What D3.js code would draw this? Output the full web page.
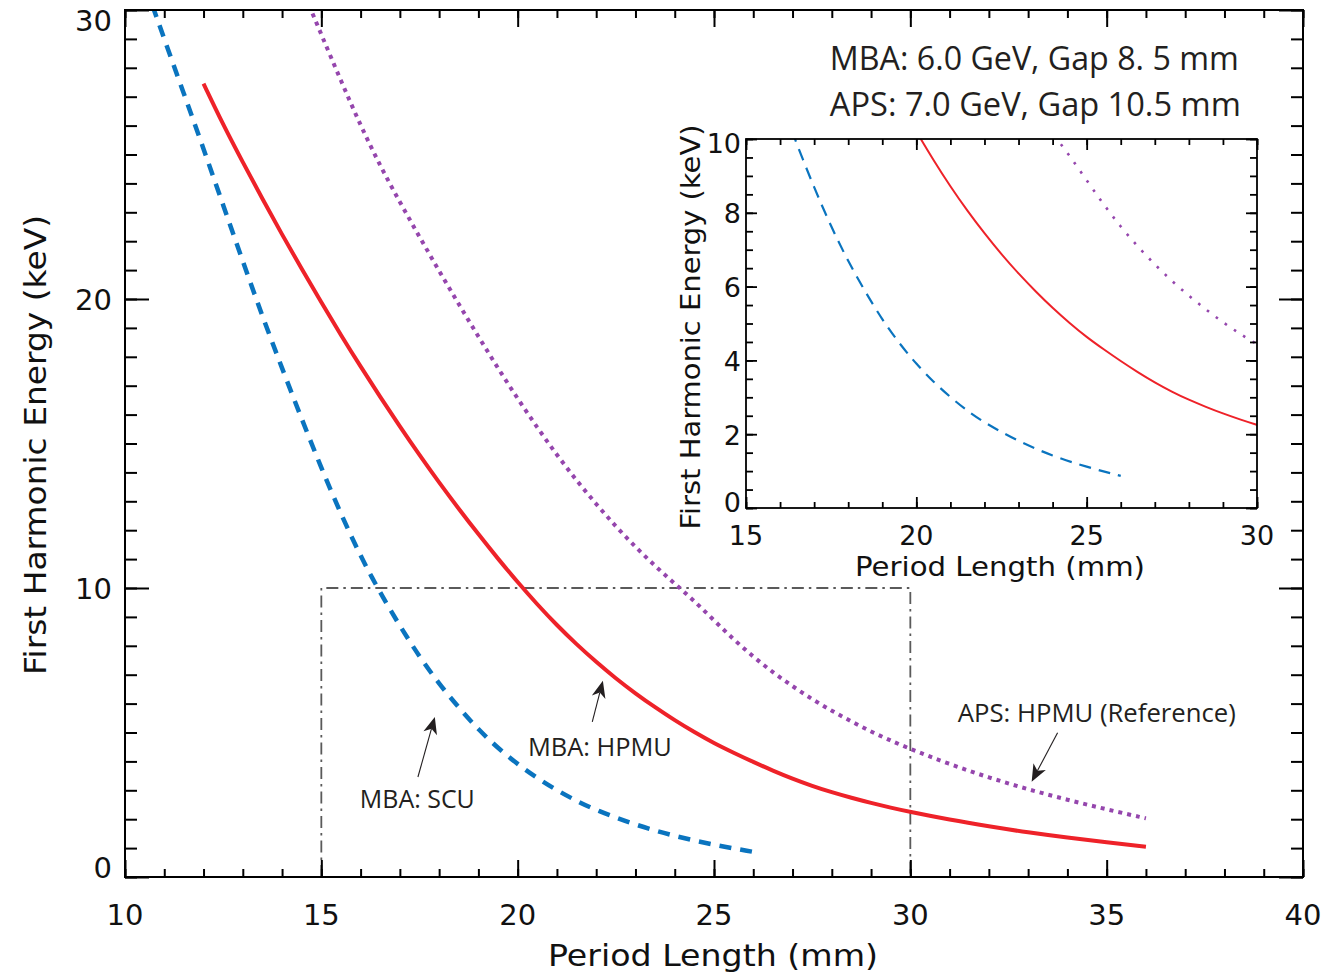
<!DOCTYPE html>
<html><head><meta charset="utf-8">
<script src="https://cdn.jsdelivr.net/npm/d3@7"></script>
<style>body{margin:0;background:#fff}</style>
</head><body>
<svg id="c" width="1344" height="975"></svg>
<script>
// ---------- data ----------
const periodSCU = [10.7, 11.0, 11.5, 12.0, 12.5, 13.0, 13.5, 14.0, 14.5, 15.0, 15.5, 16.0, 16.45, 17.0, 17.5, 18.0, 18.5, 19.0, 19.5, 20.0, 20.5, 21.0, 21.5, 22.0, 23.0, 24.0, 25.0, 26.0];
const energySCU = [30.15, 29.0, 27.1, 25.2, 23.25, 21.3, 19.4, 17.6, 15.85, 14.15, 12.55, 11.1, 9.95, 8.68, 7.62, 6.68, 5.86, 5.1, 4.46, 3.9, 3.42, 3.0, 2.63, 2.31, 1.8, 1.41, 1.11, 0.87];

const periodHPMU = [12.0, 12.5, 13.0, 13.5, 14.0, 14.5, 15.0, 15.5, 16.0, 16.5, 17.0, 17.5, 18.0, 18.5, 19.0, 19.5, 20.0, 20.5, 21.0, 21.5, 22.0, 22.5, 23.0, 23.5, 24.0, 24.5, 25.0, 25.5, 26.0, 26.5, 27.0, 27.5, 28.0, 28.5, 29.0, 29.5, 30.0, 31.0, 32.0, 33.0, 34.0, 35.0, 36.0];
const energyHPMU = [27.45, 26.03, 24.73, 23.46, 22.23, 21.04, 19.88, 18.75, 17.66, 16.61, 15.59, 14.6, 13.65, 12.74, 11.86, 11.01, 10.2, 9.43, 8.71, 8.05, 7.44, 6.87, 6.35, 5.87, 5.42, 5.01, 4.63, 4.3, 3.98, 3.68, 3.4, 3.15, 2.93, 2.74, 2.56, 2.4, 2.25, 1.98, 1.75, 1.54, 1.36, 1.2, 1.05];

const periodAPS = [14.6, 15.0, 15.5, 16.0, 16.5, 17.0, 17.5, 18.0, 18.5, 19.0, 19.5, 20.0, 20.5, 21.0, 21.5, 22.0, 22.5, 23.0, 23.5, 24.0, 24.5, 25.0, 25.5, 26.0, 26.5, 27.0, 27.5, 28.0, 28.5, 29.0, 29.5, 30.0, 31.0, 32.0, 33.0, 34.0, 35.0, 36.0];
const energyAPS = [30.45, 29.15, 27.55, 26.0, 24.6, 23.35, 22.15, 20.97, 19.82, 18.7, 17.6, 16.55, 15.55, 14.6, 13.72, 12.9, 12.13, 11.42, 10.76, 10.15, 9.55, 8.88, 8.22, 7.62, 7.08, 6.6, 6.15, 5.75, 5.38, 5.03, 4.72, 4.43, 3.9, 3.44, 3.03, 2.67, 2.34, 2.03];

const xTicksMain = [10, 15, 20, 25, 30, 35, 40];
const yTicksMain = [0, 10, 20, 30];
const xTicksInset = [15, 20, 25, 30];
const yTicksInset = [0, 2, 4, 6, 8, 10];
const zoomBox = [15, 30, 0, 10];   // x0, x1, y0, y1 of the zoomed window

// ---------- layout ----------
const svg = d3.select("#c");
const M = {l: 125, r: 1303, t: 10, b: 877};
const I = {l: 746, r: 1257, t: 139, b: 508};
const x = d3.scaleLinear().domain([10, 40]).range([M.l, M.r]);
const y = d3.scaleLinear().domain([0, 30]).range([M.b, M.t]);
const xi = d3.scaleLinear().domain([15, 30]).range([I.l, I.r]);
const yi = d3.scaleLinear().domain([0, 10]).range([I.b, I.t]);

const fontAxis = "'DejaVu Sans', sans-serif";
const fontNote = "'Open Sans', 'Noto Sans', sans-serif";
const cBlue = "#0a74bf", cRed = "#ee2229", cPurple = "#9546ad";

const defs = svg.append("defs");
defs.append("clipPath").attr("id", "clipMain").append("rect")
  .attr("x", M.l).attr("y", M.t).attr("width", M.r - M.l).attr("height", M.b - M.t);
defs.append("clipPath").attr("id", "clipInset").append("rect")
  .attr("x", I.l).attr("y", I.t).attr("width", I.r - I.l).attr("height", I.b - I.t);

const series = [
  {px: periodSCU, e: energySCU, color: cBlue, w: 4.5, dash: "12,9", wi: 2.2, dashi: "12,8"},
  {px: periodHPMU, e: energyHPMU, color: cRed, w: 4, dash: null, wi: 2, dashi: null},
  {px: periodAPS, e: energyAPS, color: cPurple, w: 4, dash: "4,5", wi: 2.6, dashi: "2.6,8.5"}
];

// ---------- main plot ----------
svg.append("path")
  .attr("d", d3.line()([[x(zoomBox[0]), y(zoomBox[2])], [x(zoomBox[0]), y(zoomBox[3])],
                        [x(zoomBox[1]), y(zoomBox[3])], [x(zoomBox[1]), y(zoomBox[2])]]))
  .attr("fill", "none").attr("stroke", "#5a5a5a").attr("stroke-width", 1.8)
  .attr("stroke-dasharray", "12,5,2.5,5");

const gMain = svg.append("g").attr("clip-path", "url(#clipMain)");
series.forEach(s => {
  const line = d3.line().x(d => x(d[0])).y(d => y(d[1])).curve(d3.curveBasis);
  gMain.append("path").attr("d", line(d3.zip(s.px, s.e)))
    .attr("fill", "none").attr("stroke", s.color).attr("stroke-width", s.w)
    .attr("stroke-dasharray", s.dash);
});

function drawTicks(xs, ys, box, xMinorVals, xMajorVals, yMinorVals, yMajorVals, sz, sw) {
  const specs = [
    [d3.axisBottom(xs), `translate(0,${box.b})`, xMinorVals, sz.xmin],
    [d3.axisBottom(xs), `translate(0,${box.b})`, xMajorVals, sz.xmaj],
    [d3.axisTop(xs), `translate(0,${box.t})`, xMinorVals, sz.xmin],
    [d3.axisTop(xs), `translate(0,${box.t})`, xMajorVals, sz.xmaj],
    [d3.axisLeft(ys), `translate(${box.l},0)`, yMinorVals, sz.ymin],
    [d3.axisLeft(ys), `translate(${box.l},0)`, yMajorVals, sz.ymaj],
    [d3.axisRight(ys), `translate(${box.r},0)`, yMinorVals, sz.ymin],
    [d3.axisRight(ys), `translate(${box.r},0)`, yMajorVals, sz.ymaj]
  ];
  specs.forEach(([ax, tr, vals, size]) => {
    const g = svg.append("g").attr("transform", tr)
      .call(ax.tickValues(vals).tickSize(-size).tickFormat(""));
    g.select(".domain").remove();
    g.selectAll(".tick line").attr("stroke", "#000").attr("stroke-width", sw);
  });
  svg.append("rect").attr("x", box.l).attr("y", box.t)
    .attr("width", box.r - box.l).attr("height", box.b - box.t)
    .attr("fill", "none").attr("stroke", "#000").attr("stroke-width", sw);
}

drawTicks(x, y, M, d3.range(10, 41, 1), xTicksMain, d3.range(0, 31, 1), yTicksMain,
  {xmin: 8, xmaj: 17, ymin: 12, ymaj: 24}, 2);

svg.append("g").selectAll("text").data(xTicksMain).join("text")
  .attr("x", d => x(d)).attr("y", 915).attr("text-anchor", "middle")
  .attr("dominant-baseline", "central")
  .attr("font-family", fontAxis).attr("font-size", 29).attr("fill", "#111").text(d => d);
svg.append("g").selectAll("text").data(yTicksMain).join("text")
  .attr("x", 112).attr("y", d => y(d) + (d === 30 ? 11 : d === 0 ? -9 : 1))
  .attr("text-anchor", "end").attr("dominant-baseline", "central")
  .attr("font-family", fontAxis).attr("font-size", 29).attr("fill", "#111").text(d => d);

svg.append("text").attr("x", 713).attr("y", 966).attr("text-anchor", "middle")
  .attr("font-family", fontAxis).attr("font-size", 30).attr("fill", "#111")
  .attr("textLength", 330).attr("lengthAdjust", "spacingAndGlyphs")
  .text("Period Length (mm)");
svg.append("text").attr("transform", "translate(46,445) rotate(-90)")
  .attr("text-anchor", "middle")
  .attr("font-family", fontAxis).attr("font-size", 30).attr("fill", "#111")
  .attr("textLength", 460).attr("lengthAdjust", "spacingAndGlyphs")
  .text("First Harmonic Energy (keV)");

// ---------- annotations ----------
const noteColor = "#231f20";
function note(px, py, txt, size, len) {
  svg.append("text").attr("x", x(px)).attr("y", y(py))
    .attr("font-family", fontNote).attr("font-size", size).attr("fill", noteColor)
    .attr("textLength", len).attr("lengthAdjust", "spacingAndGlyphs").text(txt);
}
function arrow(a, b) {
  const x0 = x(a[0]), y0 = y(a[1]), x1 = x(b[0]), y1 = y(b[1]);
  const dx = x1 - x0, dy = y1 - y0, L = Math.hypot(dx, dy);
  const ux = dx / L, uy = dy / L, nx = -uy, ny = ux;
  const hl = 17, hw = 7;
  const bx = x1 - ux * hl, by = y1 - uy * hl;
  const mx = x1 - ux * hl * 0.72, my = y1 - uy * hl * 0.72;
  svg.append("line").attr("x1", x0).attr("y1", y0).attr("x2", mx).attr("y2", my)
    .attr("stroke", noteColor).attr("stroke-width", 1.1);
  svg.append("path")
    .attr("d", `M${x1},${y1}L${bx + nx * hw},${by + ny * hw}L${mx},${my}L${bx - nx * hw},${by - ny * hw}Z`)
    .attr("fill", noteColor);
}
note(27.95, 27.92, "MBA: 6.0 GeV, Gap 8. 5 mm", 33, 409);
note(27.95, 26.33, "APS: 7.0 GeV, Gap 10.5 mm", 33, 411);
note(15.98, 2.39, "MBA: SCU", 26, 115);
note(20.26, 4.19, "MBA: HPMU", 26, 144);
note(31.21, 5.36, "APS: HPMU (Reference)", 26, 278);
arrow([17.46, 3.46], [17.89, 5.54]);
arrow([21.9, 5.37], [22.17, 6.79]);
arrow([33.75, 4.99], [33.09, 3.30]);

// ---------- inset ----------
svg.append("rect").attr("x", I.l).attr("y", I.t).attr("width", I.r - I.l).attr("height", I.b - I.t)
  .attr("fill", "#fff");
const gIn = svg.append("g").attr("clip-path", "url(#clipInset)");
series.forEach(s => {
  const line = d3.line().x(d => xi(d[0])).y(d => yi(d[1])).curve(d3.curveBasis);
  gIn.append("path").attr("d", line(d3.zip(s.px, s.e)))
    .attr("fill", "none").attr("stroke", s.color).attr("stroke-width", s.wi)
    .attr("stroke-dasharray", s.dashi);
});
drawTicks(xi, yi, I, d3.range(15, 31, 1), xTicksInset, d3.range(0, 10.01, 0.5), yTicksInset,
  {xmin: 6, xmaj: 11, ymin: 7, ymaj: 11}, 1.8);

svg.append("g").selectAll("text").data(xTicksInset).join("text")
  .attr("x", d => xi(d)).attr("y", 535).attr("text-anchor", "middle")
  .attr("dominant-baseline", "central")
  .attr("font-family", fontAxis).attr("font-size", 27).attr("fill", "#111").text(d => d);
svg.append("g").selectAll("text").data(yTicksInset).join("text")
  .attr("x", 741).attr("y", d => yi(d) + (d === 10 ? 4 : d === 0 ? -6 : 1))
  .attr("text-anchor", "end").attr("dominant-baseline", "central")
  .attr("font-family", fontAxis).attr("font-size", 27).attr("fill", "#111").text(d => d);
svg.append("text").attr("x", 1000).attr("y", 576).attr("text-anchor", "middle")
  .attr("font-family", fontAxis).attr("font-size", 27).attr("fill", "#111")
  .attr("textLength", 290).attr("lengthAdjust", "spacingAndGlyphs")
  .text("Period Length (mm)");
svg.append("text").attr("transform", "translate(700,327) rotate(-90)")
  .attr("text-anchor", "middle")
  .attr("font-family", fontAxis).attr("font-size", 27).attr("fill", "#111")
  .attr("textLength", 405).attr("lengthAdjust", "spacingAndGlyphs")
  .text("First Harmonic Energy (keV)");
</script>
</body></html>
